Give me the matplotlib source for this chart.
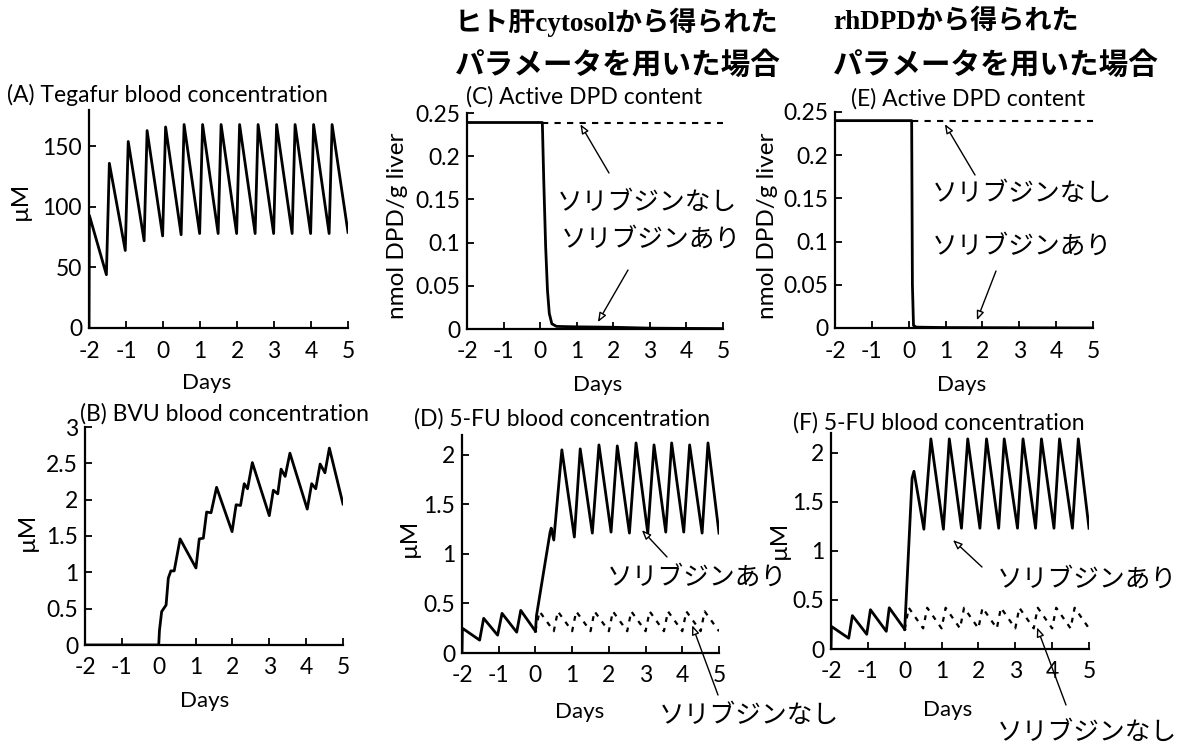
import matplotlib
matplotlib.use("Agg")
import matplotlib.pyplot as plt

plt.rcParams['font.family'] = ['Lato', 'Noto Sans CJK JP', 'DejaVu Sans']
plt.rcParams['axes.unicode_minus'] = False

W, H = 1194, 748

# ---------------- data ----------------
days_ticks = [-2, -1, 0, 1, 2, 3, 4, 5]

# (A) Tegafur blood concentration (uM)
days_A = [-2.0, -1.99, -1.53, -1.45, -1.02, -0.94, -0.51, -0.43, -0.01, 0.07,
          0.49, 0.57, 0.99, 1.07, 1.49, 1.57, 1.99, 2.07, 2.49, 2.57, 2.99, 3.07,
          3.49, 3.57, 3.99, 4.07, 4.49, 4.57, 5.0]
conc_A = [0, 93, 44, 136, 64, 154, 72, 163, 76, 166,
          77, 168, 78, 168, 78, 168, 78, 168, 78, 168, 78, 168,
          78, 168, 78, 168, 78, 168, 79]

# (B) BVU blood concentration (uM)
days_B = [-2.0, 0.0, 0.02, 0.08, 0.2, 0.26, 0.33, 0.42, 0.58, 1.01,
          1.1, 1.21, 1.3, 1.42, 1.57, 1.99,
          2.1, 2.22, 2.32, 2.41, 2.54, 3.0,
          3.11, 3.23, 3.32, 3.43, 3.56, 4.03,
          4.15, 4.26, 4.38, 4.51, 4.63, 5.0]
conc_B = [0.0, 0.0, 0.2, 0.46, 0.55, 0.92, 1.02, 1.02, 1.46, 1.06,
          1.46, 1.47, 1.83, 1.82, 2.17, 1.56,
          1.93, 1.92, 2.22, 2.15, 2.51, 1.78,
          2.13, 2.08, 2.42, 2.32, 2.64, 1.87,
          2.22, 2.15, 2.49, 2.37, 2.71, 1.94]

# (C) Active DPD content, human liver cytosol parameters (nmol DPD/g liver)
days_C_with = [-2.0, 0.06, 0.1, 0.15, 0.2, 0.25, 0.32, 0.45, 1.0, 2.0, 3.0, 4.0, 5.0]
dpd_C_with = [0.239, 0.239, 0.17, 0.096, 0.045, 0.018, 0.006, 0.003, 0.0025,
              0.002, 0.001, 0.0007, 0.0005]
days_C_without = [0.06, 5.0]
dpd_C_without = [0.239, 0.239]

# (E) Active DPD content, rhDPD parameters
days_E_with = [-2.0, 0.08, 0.1, 0.13, 0.2, 1.0, 5.0]
dpd_E_with = [0.24, 0.24, 0.05, 0.003, 0.001, 0.0005, 0.0]
days_E_without = [0.08, 5.0]
dpd_E_without = [0.24, 0.24]

# (D) 5-FU blood concentration, human liver cytosol parameters (uM)
days_D_pre = [-2.0, -1.99, -1.52, -1.41, -1.03, -0.91, -0.51, -0.40, 0.0]
fu_D_pre = [0.0, 0.25, 0.13, 0.35, 0.18, 0.40, 0.21, 0.43, 0.22]
days_D_with = [0.0, 0.03, 0.40, 0.43, 0.50, 0.72, 1.06, 1.22, 1.55, 1.73, 2.06,
               2.23, 2.56, 2.74, 3.06, 3.23, 3.55, 3.71, 4.04, 4.20, 4.54, 4.70, 5.0]
fu_D_with = [0.22, 0.38, 1.22, 1.26, 1.14, 2.05, 1.17, 2.06, 1.21, 2.10, 1.22,
             2.09, 1.21, 2.12, 1.21, 2.10, 1.22, 2.12, 1.22, 2.10, 1.21, 2.12, 1.21]
days_D_without = [0.0, 0.11, 0.5, 0.61, 1.0, 1.11, 1.5, 1.61, 2.0, 2.11, 2.5, 2.61,
                  3.0, 3.11, 3.5, 3.61, 4.0, 4.11, 4.5, 4.61, 5.0]
fu_D_without = [0.22, 0.42, 0.22, 0.42, 0.22, 0.42, 0.22, 0.42, 0.22, 0.42, 0.22,
                0.42, 0.22, 0.42, 0.22, 0.42, 0.22, 0.42, 0.22, 0.42, 0.22]

# (F) 5-FU blood concentration, rhDPD parameters (uM)
days_F_pre = [-2.0, -1.99, -1.52, -1.42, -1.03, -0.93, -0.50, -0.42, 0.0]
fu_F_pre = [0.0, 0.23, 0.11, 0.34, 0.15, 0.40, 0.18, 0.42, 0.20]
days_F_with = [0.0, 0.20, 0.25, 0.52, 0.71, 1.05, 1.21, 1.54, 1.71, 2.04, 2.22,
               2.55, 2.70, 3.06, 3.21, 3.55, 3.71, 4.05, 4.20, 4.55, 4.71, 5.0]
fu_F_with = [0.20, 1.74, 1.81, 1.22, 2.14, 1.22, 2.14, 1.23, 2.14, 1.23, 2.14,
             1.23, 2.14, 1.23, 2.14, 1.23, 2.14, 1.23, 2.14, 1.23, 2.14, 1.23]
days_F_without = [0.0, 0.11, 0.5, 0.61, 1.0, 1.11, 1.5, 1.61, 2.0, 2.11, 2.5, 2.61,
                  3.0, 3.11, 3.5, 3.61, 4.0, 4.11, 4.5, 4.61, 5.0]
fu_F_without = [0.20, 0.42, 0.21, 0.42, 0.21, 0.42, 0.21, 0.42, 0.21, 0.42, 0.21,
                0.42, 0.21, 0.42, 0.21, 0.42, 0.21, 0.42, 0.21, 0.42, 0.21]

ticks_A = [0, 50, 100, 150]
ticks_B = [0, 0.5, 1, 1.5, 2, 2.5, 3]
ticks_DPD = [0, 0.05, 0.1, 0.15, 0.2, 0.25]
ticks_FU = [0, 0.5, 1, 1.5, 2]

label_without = 'ソリブジンなし'
label_with = 'ソリブジンあり'

# ---------------- figure ----------------
fig = plt.figure(figsize=(W / 100, H / 100), dpi=100)
fig.patch.set_facecolor('white')


def add_ax(x0, x1, y0, ytop, ylim):
    ax = fig.add_axes([x0 / W, 1 - y0 / H, (x1 - x0) / W, (y0 - ytop) / H])
    ax.set_xlim(-2, 5)
    ax.set_ylim(*ylim)
    for s in ['top', 'right']:
        ax.spines[s].set_visible(False)
    for s in ['left', 'bottom']:
        ax.spines[s].set_linewidth(1.6)
    ax.set_xticks(days_ticks)
    ax.set_xticklabels([str(d) for d in days_ticks])
    ax.tick_params(direction='in', length=5, width=1.3, labelsize=16.5)
    ax.tick_params(axis='x', pad=9)
    ax.tick_params(axis='y', pad=5)
    ax.patch.set_alpha(0)
    return ax


def fmt(v):
    return '%g' % v


def ftext(x, y, s, **kw):
    fig.text(x / W, 1 - y / H, s, **kw)


def arrow(ax, tip, tail_px):
    ax.annotate('', xy=tip, xycoords='data',
                xytext=(tail_px[0], H - tail_px[1]), textcoords='figure pixels',
                arrowprops=dict(arrowstyle='-|>,head_length=0.55,head_width=0.22',
                                fc='white', ec='black', lw=1.0,
                                shrinkA=0, shrinkB=0),
                annotation_clip=False)


lw = 2.0
jp = ['Noto Sans CJK JP']

# A
axA = add_ax(89, 348, 328, 110, (0, 180))
axA.plot(days_A, conc_A, color='black', lw=lw)
axA.set_yticks(ticks_A)
axA.set_yticklabels([fmt(v) for v in ticks_A])

# B
axB = add_ax(85, 343, 645, 427, (0, 3))
axB.plot(days_B, conc_B, color='black', lw=lw)
axB.set_yticks(ticks_B)
axB.set_yticklabels([fmt(v) for v in ticks_B])

# C
axC = add_ax(467, 723, 329, 113, (0, 0.25))
axC.plot(days_C_with, dpd_C_with, color='black', lw=lw)
axC.plot(days_C_without, dpd_C_without, color='black', lw=1.5, ls=(0, (3, 3)))
axC.set_yticks(ticks_DPD)
axC.set_yticklabels([fmt(v) for v in ticks_DPD])

# D
axD = add_ax(462, 719, 653, 435, (0, 2.2))
axD.plot(days_D_pre, fu_D_pre, color='black', lw=lw)
axD.plot(days_D_with, fu_D_with, color='black', lw=lw)
axD.plot(days_D_without, fu_D_without, color='black', lw=1.6, ls=(0, (2.2, 2.8)))
axD.set_yticks(ticks_FU)
axD.set_yticklabels([fmt(v) for v in ticks_FU])

# E
axE = add_ax(835, 1093, 328, 112, (0, 0.25))
axE.plot(days_E_with, dpd_E_with, color='black', lw=lw)
axE.plot(days_E_without, dpd_E_without, color='black', lw=1.5, ls=(0, (3, 3)))
axE.set_yticks(ticks_DPD)
axE.set_yticklabels([fmt(v) for v in ticks_DPD])

# F
axF = add_ax(831, 1089, 649, 433, (0, 2.2))
axF.plot(days_F_pre, fu_F_pre, color='black', lw=lw)
axF.plot(days_F_with, fu_F_with, color='black', lw=lw)
axF.plot(days_F_without, fu_F_without, color='black', lw=1.6, ls=(0, (2.2, 2.8)))
axF.set_yticks(ticks_FU)
axF.set_yticklabels([fmt(v) for v in ticks_FU])

# panel titles
tkw = dict(ha='left', va='center', fontsize=16.5)
ftext(7, 95, '(A) Tegafur blood concentration', **tkw)
ftext(80, 414, '(B) BVU blood concentration', **tkw)
ftext(466, 97, '(C) Active DPD content', **tkw)
ftext(414, 419, '(D) 5-FU blood concentration', **tkw)
ftext(851, 99, '(E) Active DPD content', **tkw)
ftext(793, 423, '(F) 5-FU blood concentration', **tkw)

# x labels
xkw = dict(ha='center', va='center', fontsize=16)
ftext(207, 383, 'Days', **xkw)
ftext(205, 701, 'Days', **xkw)
ftext(598, 385, 'Days', **xkw)
ftext(580, 712, 'Days', **xkw)
ftext(962, 385, 'Days', **xkw)
ftext(948, 710, 'Days', **xkw)

# y labels
ykw = dict(ha='center', va='center', rotation=90, fontsize=17.5)
ftext(20, 201, 'µM', **ykw)
ftext(27, 532, 'µM', **ykw)
ftext(397, 226, 'nmol DPD/g liver', **ykw)
ftext(409, 538, 'µM', **ykw)
ftext(768, 226, 'nmol DPD/g liver', **ykw)
ftext(779, 540, 'µM', **ykw)

# headers
h1 = dict(ha='left', va='center', fontsize=19.5, weight='bold',
          family=['Liberation Serif', 'Noto Sans CJK JP'])
h2 = dict(ha='left', va='center', fontsize=21.3, weight='bold',
          family=['Noto Sans CJK JP'])
ftext(455, 22, 'ヒト肝cytosolから得られた', **h1)
ftext(455, 65, 'パラメータを用いた場合', **h2)
ftext(833, 22, 'rhDPDから得られた', **h1)
ftext(833, 65, 'パラメータを用いた場合', **h2)

# annotations
akw = dict(ha='center', va='center', fontsize=18.5, family=jp)
ftext(647, 203, label_without, **akw)
ftext(651, 240, label_with, **akw)
arrow(axC, (1.1, 0.237), (609, 173))
arrow(axC, (1.58, 0.008), (628, 270))

ftext(1022, 194, label_without, **akw)
ftext(1022, 247, label_with, **akw)
arrow(axE, (0.98, 0.236), (975, 175))
arrow(axE, (1.85, 0.009), (996, 271))

ftext(697, 578, label_with, **akw)
ftext(749, 716, label_without, **akw)
arrow(axD, (2.9, 1.24), (667, 557))
arrow(axD, (4.27, 0.28), (718, 695))

ftext(1087, 580, label_with, **akw)
ftext(1087, 733, label_without, **akw)
arrow(axF, (1.31, 1.11), (982, 567))
arrow(axF, (3.59, 0.22), (1066, 705))

fig.savefig('out.png', dpi=100, facecolor='white')
